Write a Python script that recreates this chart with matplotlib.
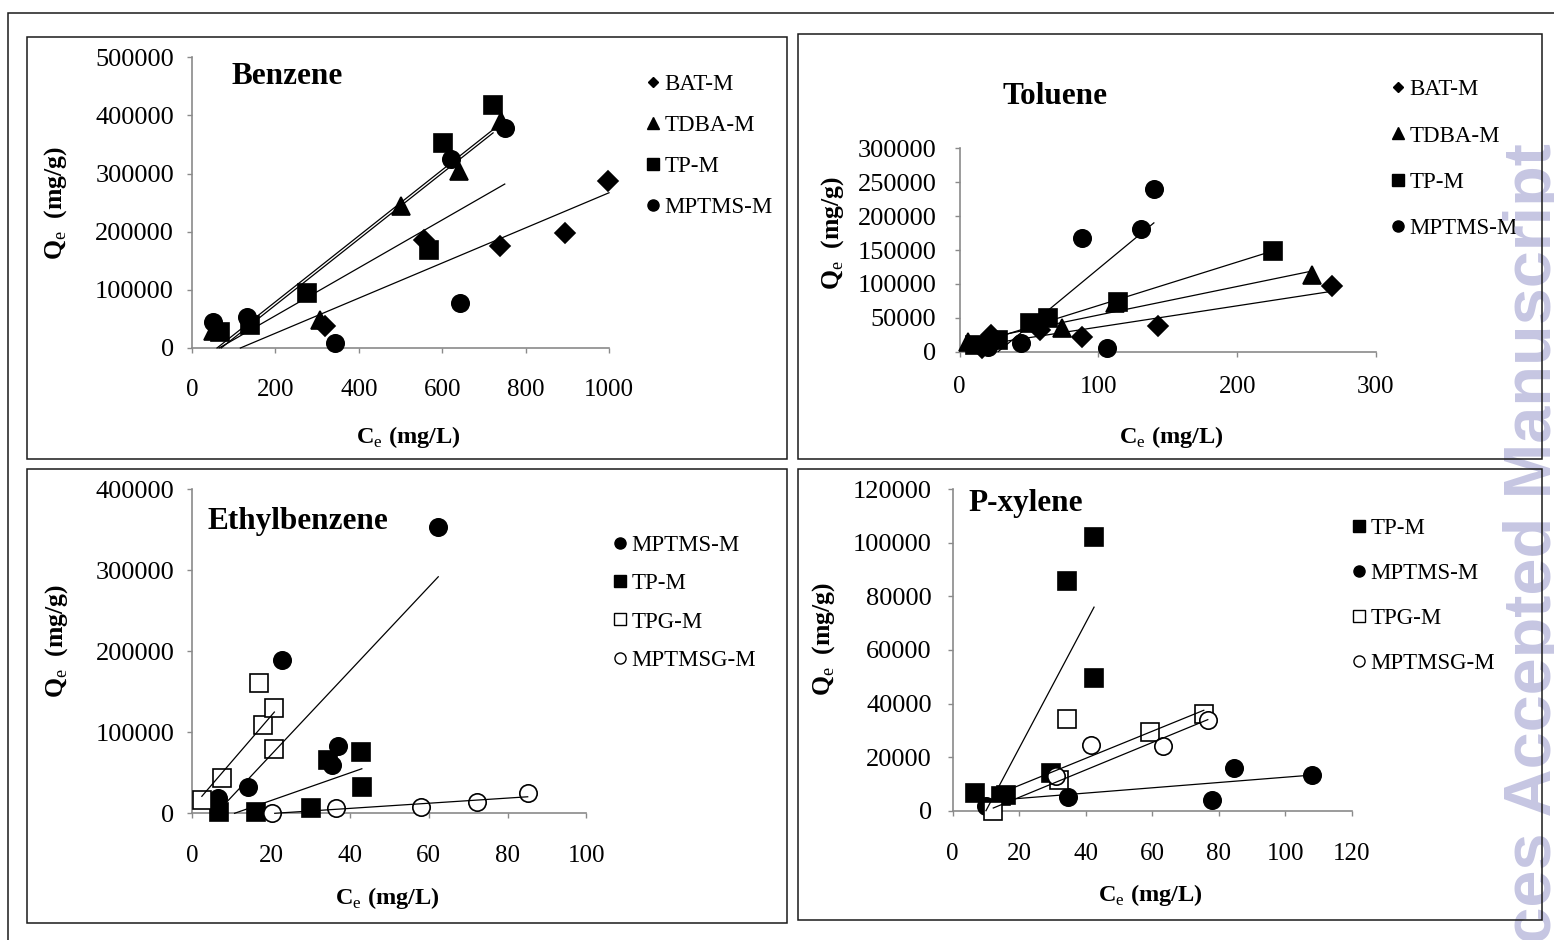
import numpy as np
import matplotlib
matplotlib.use('Agg')
import matplotlib.pyplot as plt
from matplotlib.lines import Line2D
from matplotlib.patches import Rectangle

plt.rcParams['font.family'] = ['Liberation Serif', 'DejaVu Serif']
plt.rcParams['mathtext.fontset'] = 'custom'
plt.rcParams['mathtext.rm'] = 'Liberation Serif'
plt.rcParams['mathtext.bf'] = 'Liberation Serif:bold'

W, H = 1554, 940

# ---------------- Benzene (Ce in mg/L, Qe in mg/g)
bz_bat_ce = [320, 556, 738, 895, 998]
bz_bat_qe = [38000, 186000, 176000, 197000, 288000]
bz_tdba_ce = [50, 306, 500, 640, 740]
bz_tdba_qe = [30000, 48000, 245000, 305000, 390000]
bz_tp_ce = [67, 140, 275, 568, 602, 722]
bz_tp_qe = [27000, 40000, 95000, 169000, 352000, 418000]
bz_mptms_ce = [51, 132, 343, 620, 642, 750]
bz_mptms_qe = [45000, 54000, 9000, 325000, 77000, 378000]
# trend lines (end points)
bz_bat_fit = ([116, 1000], [0, 267000])
bz_tdba_fit = ([60, 742], [0, 387000])
bz_tp_fit = ([70, 722], [0, 370000])
bz_mptms_fit = ([65, 750], [0, 282000])

# ---------------- Toluene
tl_bat_ce = [16, 23, 58, 88, 143, 268]
tl_bat_qe = [5000, 24600, 32000, 21000, 38000, 97500]
tl_tdba_ce = [6.4, 73.6, 112, 254]
tl_tdba_qe = [14700, 34500, 71400, 113000]
tl_tp_ce = [11, 28, 51, 64, 114, 225.5]
tl_tp_qe = [9900, 17300, 41800, 49200, 73700, 148500]
tl_mptms_ce = [20.7, 44.3, 88.3, 106.4, 130.5, 140]
tl_mptms_qe = [7400, 12400, 167200, 5000, 180500, 239500]
tl_bat_fit = ([16, 268], [10000, 89000])
tl_tdba_fit = ([6.4, 254], [14500, 119000])
tl_tp_fit = ([11, 225.5], [11000, 148500])
tl_mptms_fit = ([27.8, 140], [0, 190000])

# ---------------- Ethylbenzene
eb_mptms_ce = [6.6, 14, 22.7, 35.4, 37, 62.4]
eb_mptms_qe = [18500, 32000, 189300, 59700, 83500, 353900]
eb_tp_ce = [6.8, 16.1, 30.1, 34.5, 42.8, 43]
eb_tp_qe = [2000, 2000, 6200, 65800, 76000, 32800]
eb_tpg_ce = [2.4, 7.4, 16.8, 18, 20.7, 20.8]
eb_tpg_qe = [16400, 43200, 161300, 109000, 79000, 129600]
eb_mptmsg_ce = [20.3, 36.4, 58, 72.3, 85.1]
eb_mptmsg_qe = [700, 6900, 7400, 13600, 24700]
eb_mptms_fit = ([6.6, 62.4], [3000, 292000])
eb_tp_fit = ([10.7, 43], [0, 55000])
eb_tpg_fit = ([2.4, 20.8], [21000, 125000])
eb_mptmsg_fit = ([20.9, 85.1], [0, 20400])

# ---------------- P-xylene
px_tp_ce = [6.7, 14.5, 16, 29.7, 34.5, 42.5, 42.5]
px_tp_qe = [6700, 5500, 6000, 14200, 85900, 102300, 49700]
px_mptms_ce = [10, 34.7, 78.1, 84.5, 108]
px_mptms_qe = [1850, 5200, 4000, 15800, 13300]
px_tpg_ce = [12.2, 31.9, 34.4, 59.2, 75.5]
px_tpg_qe = [0, 11600, 34200, 29300, 36000]
px_mptmsg_ce = [31, 41.5, 63.2, 76.7]
px_mptmsg_qe = [13000, 24600, 24100, 33900]
px_tp_fit = ([10, 42.5], [0, 76000])
px_mptms_fit = ([10, 108], [3600, 13300])
px_tpg_fit = ([12.2, 75.5], [5500, 37500])
px_mptmsg_fit = ([12.2, 76.7], [1000, 34000])

# marker, size on chart, size in legend, face colour
MARK = {
    'BAT-M': ('D', 10.5, 5.5, 'black'),
    'TDBA-M': ('^', 12.5, 8, 'black'),
    'TP-M': ('s', 12.5, 8, 'black'),
    'MPTMS-M': ('o', 12.5, 8, 'black'),
    'TPG-M': ('s', 12.5, 8, 'white'),
    'MPTMSG-M': ('o', 12.5, 8, 'white'),
}

fig = plt.figure(figsize=(W / 100, H / 100), dpi=100)
fig.patch.set_facecolor('white')


def frame(x0, y0, x1, y1):
    fig.patches.append(Rectangle((x0 / W, 1 - y1 / H), (x1 - x0) / W, (y1 - y0) / H,
                                 transform=fig.transFigure, fill=False,
                                 edgecolor='#1a1a1a', lw=1.1, zorder=2))


# watermark on the right edge (mostly cut off by the page edge)
fig.text(1503 / W, 1 - 143 / H, 'RSC Advances Accepted Manuscript', rotation=90,
         ha='left', va='top', fontsize=48, fontweight='bold', family='Liberation Sans',
         color='#c6c6e2', zorder=0)

frame(8, 13, 1600, 1000)
frame(27, 37, 787, 459)
frame(798, 34, 1542, 459)
frame(27, 469, 787, 923)
frame(798, 469, 1542, 920)


def panel(box, xmax, xstep, ymax, ystep, series, fits, title, title_px,
          leg_px, leg_space, xpad, ypad, xlab_px, ylab_px):
    x0, x1, y0, y1 = box
    ax = fig.add_axes([x0 / W, 1 - y0 / H, (x1 - x0) / W, (y0 - y1) / H])
    ax.set_facecolor('none')
    handles = []
    for name, ce, qe in series:
        m, ms, lms, fc = MARK[name]
        ax.plot(ce, qe, ls='none', marker=m, ms=ms, mfc=fc, mec='black',
                mew=1.2, clip_on=False, zorder=3)
        handles.append(Line2D([], [], ls='none', marker=m, ms=lms, mfc=fc,
                              mec='black', mew=1.0))
    for ce, qe in fits:
        ax.plot(ce, qe, color='black', lw=0.9, zorder=4, clip_on=False)

    ax.set_xlim(0, xmax)
    ax.set_ylim(0, ymax)
    ax.set_xticks(np.arange(0, xmax + 1, xstep))
    ax.set_yticks(np.arange(0, ymax + 1, ystep))
    ax.set_yticklabels([str(int(v)) for v in np.arange(0, ymax + 1, ystep)])
    for s in ['top', 'right']:
        ax.spines[s].set_visible(False)
    for s in ['left', 'bottom']:
        ax.spines[s].set_color('#8a8a8a')
        ax.spines[s].set_linewidth(1.2)
    ax.tick_params(direction='out', length=3.6, width=1.0, color='#8a8a8a')
    ax.tick_params(axis='x', pad=xpad, labelsize=18)
    ax.tick_params(axis='y', pad=ypad, labelsize=19)

    ax.legend(handles, [s[0] for s in series], loc='upper left',
              bbox_to_anchor=(leg_px[0] / W, 1 - leg_px[1] / H),
              bbox_transform=fig.transFigure, frameon=False, fontsize=16.5,
              handlelength=0.8, handletextpad=0.1, labelspacing=leg_space,
              borderpad=0, borderaxespad=0)

    fig.text(title_px[0] / W, 1 - title_px[1] / H, title, ha='left', va='center',
             fontsize=22.5, fontweight='bold')
    fig.text(xlab_px[0] / W, 1 - xlab_px[1] / H, r'$\mathbf{C}_{\mathrm{e}}$ (mg/L)',
             ha='center', va='center', fontsize=17.5, fontweight='bold')
    fig.text(ylab_px[0] / W, 1 - ylab_px[1] / H, r'$\mathbf{Q}_{\mathrm{e}}$  (mg/g)',
             ha='center', va='center', rotation=90, fontsize=18.5, fontweight='bold')
    return ax


panel((192, 609, 348, 57.3), 1000, 200, 500000, 100000,
      [('BAT-M', bz_bat_ce, bz_bat_qe), ('TDBA-M', bz_tdba_ce, bz_tdba_qe),
       ('TP-M', bz_tp_ce, bz_tp_qe), ('MPTMS-M', bz_mptms_ce, bz_mptms_qe)],
      [bz_bat_fit, bz_tdba_fit, bz_tp_fit, bz_mptms_fit],
      'Benzene', (232, 76), (644, 73.5), 0.88, 19, 9.4, (408, 437), (56, 203))

panel((959.5, 1376, 351.7, 148.3), 300, 100, 300000, 50000,
      [('BAT-M', tl_bat_ce, tl_bat_qe), ('TDBA-M', tl_tdba_ce, tl_tdba_qe),
       ('TP-M', tl_tp_ce, tl_tp_qe), ('MPTMS-M', tl_mptms_ce, tl_mptms_qe)],
      [tl_bat_fit, tl_tdba_fit, tl_tp_fit, tl_mptms_fit],
      'Toluene', (1002, 96), (1389, 79), 1.11, 14, 13, (1171, 437), (833, 233))

panel((192.4, 586.4, 813.3, 489.3), 100, 20, 400000, 100000,
      [('MPTMS-M', eb_mptms_ce, eb_mptms_qe), ('TP-M', eb_tp_ce, eb_tp_qe),
       ('TPG-M', eb_tpg_ce, eb_tpg_qe), ('MPTMSG-M', eb_mptmsg_ce, eb_mptmsg_qe)],
      [eb_mptms_fit, eb_tp_fit, eb_tpg_fit, eb_mptmsg_fit],
      'Ethylbenzene', (207, 521), (611, 535), 0.75, 19.5, 9.4, (387, 898), (57, 641))

panel((952.7, 1351.8, 810.7, 489.3), 120, 20, 120000, 20000,
      [('TP-M', px_tp_ce, px_tp_qe), ('MPTMS-M', px_mptms_ce, px_mptms_qe),
       ('TPG-M', px_tpg_ce, px_tpg_qe), ('MPTMSG-M', px_mptmsg_ce, px_mptmsg_qe)],
      [px_tp_fit, px_mptms_fit, px_tpg_fit, px_mptmsg_fit],
      'P-xylene', (968, 503), (1350, 518), 1.05, 19.5, 11.5, (1150, 895), (824, 639))

fig.savefig('out.png', dpi=100, facecolor='white')
